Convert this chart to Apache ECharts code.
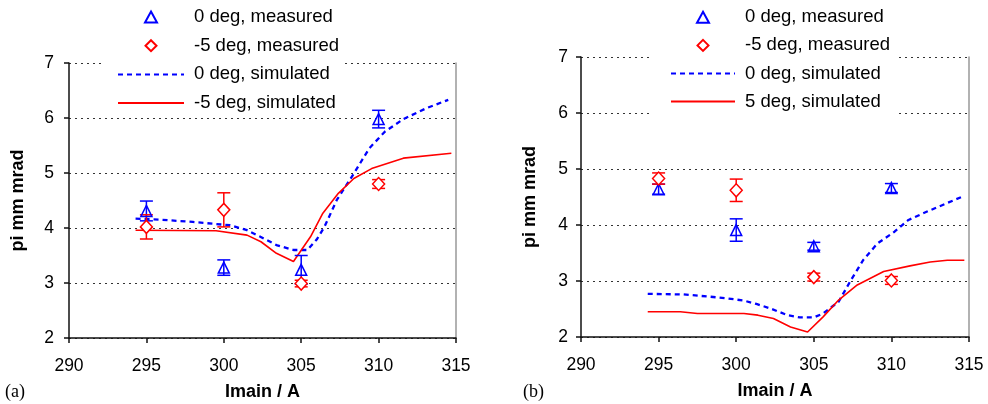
<!DOCTYPE html>
<html><head><meta charset="utf-8">
<script src="https://cdn.jsdelivr.net/npm/echarts@6/dist/echarts.min.js"></script>
<style>html,body{margin:0;padding:0;background:#fff}#c{width:988px;height:404px}</style>
</head><body><div id="c"></div>
<script>
// ---- data ----
const xTicks = [290, 295, 300, 305, 310, 315];
const yTicks = [2, 3, 4, 5, 6, 7];
const xMeas = [295, 300, 305, 310];

// (a)
const a0Meas = [4.31, 3.28, 3.24, 5.98];
const a0Err  = [0.18, 0.14, 0.26, 0.16];
const a5Meas = [4.02, 4.33, 2.99, 4.80];
const a5Err  = [0.22, 0.31, 0.06, 0.08];
const aSim0X = [294.3, 296, 298, 300.4, 301.5, 302.3, 303.4, 304.5, 305.4, 306.0, 306.5, 307.3, 308.4, 309.4, 310.4, 311.6, 313.1, 314.5];
const aSim0Y = [4.17, 4.15, 4.11, 4.05, 3.96, 3.85, 3.69, 3.60, 3.60, 3.79, 4.02, 4.51, 4.99, 5.45, 5.75, 5.98, 6.18, 6.33];
const aSim5X = [294.3, 299.5, 301.5, 302.4, 303.4, 304.5, 305.6, 306.4, 307.4, 308.4, 309.55, 311.6, 314.7];
const aSim5Y = [3.96, 3.95, 3.87, 3.75, 3.54, 3.39, 3.84, 4.27, 4.63, 4.90, 5.08, 5.27, 5.36];

// (b)
const b0Meas = [4.64, 3.91, 3.62, 4.66];
const b0Err  = [0.09, 0.20, 0.07, 0.08];
const b5Meas = [4.83, 4.62, 3.07, 3.01];
const b5Err  = [0.10, 0.20, 0.07, 0.07];
const bSim0X = [294.3, 296.6, 298.3, 299.4, 300.5, 301.3, 302.2, 303.3, 304.1, 305.0, 305.6, 306.6, 307.4, 308.2, 309.1, 310.2, 311.1, 312.3, 314.6];
const bSim0Y = [2.77, 2.76, 2.72, 2.69, 2.65, 2.59, 2.51, 2.39, 2.35, 2.35, 2.42, 2.63, 3.02, 3.38, 3.67, 3.88, 4.09, 4.24, 4.51];
const bSim5X = [294.3, 296.4, 297.5, 300.5, 301.4, 302.4, 303.5, 304.6, 305.6, 306.6, 307.8, 309.5, 311.2, 312.5, 313.6, 314.7];
const bSim5Y = [2.45, 2.45, 2.42, 2.42, 2.39, 2.33, 2.18, 2.09, 2.36, 2.66, 2.93, 3.17, 3.27, 3.34, 3.37, 3.37];

const names = {
  m0: '0 deg, measured', m5: '-5 deg, measured', s0: '0 deg, simulated',
  s5a: '-5 deg, simulated', s5b: '5 deg, simulated'
};

// ---- helpers ----
const FONT = '"Liberation Sans", Arial, sans-serif';
const BLUE = '#0000ff', RED = '#ff0000';
const zip = (xs, ys) => xs.map((x, i) => [x, ys[i]]);
const zip3 = (xs, ys, es) => xs.map((x, i) => [x, ys[i], es[i]]);

function errSeries(idx, data, color) {
  return {
    type: 'custom', xAxisIndex: idx, yAxisIndex: idx * 2, z: 3,
    encode: { x: 0, y: 1 },
    data: data,
    renderItem: function (params, api) {
      const x = api.value(0), y = api.value(1), e = api.value(2);
      const t = api.coord([x, y + e]), b = api.coord([x, y - e]);
      const hw = 6.5, st = { stroke: color, lineWidth: 1.5 };
      return { type: 'group', children: [
        { type: 'line', shape: { x1: t[0], y1: t[1], x2: b[0], y2: b[1] }, style: st },
        { type: 'line', shape: { x1: t[0] - hw, y1: t[1], x2: t[0] + hw, y2: t[1] }, style: st },
        { type: 'line', shape: { x1: b[0] - hw, y1: b[1], x2: b[0] + hw, y2: b[1] }, style: st }
      ]};
    }
  };
}
function measSeries(idx, name, data, sym, color, fill, size) {
  return {
    type: 'scatter', name: name, xAxisIndex: idx, yAxisIndex: idx * 2, z: 4,
    symbol: sym, symbolSize: size, data: data,
    itemStyle: { color: fill, borderColor: color, borderWidth: 1.5, opacity: 1 }
  };
}
function simSeries(idx, name, data, color, dashed) {
  return {
    type: 'line', name: name, xAxisIndex: idx, yAxisIndex: idx * 2, z: 2,
    symbol: 'none', showSymbol: false, smooth: false, data: data,
    lineStyle: dashed ? { color: color, width: 2.3, type: [5, 4] } : { color: color, width: 1.6 },
    itemStyle: { color: color }
  };
}
function xAxisCfg(idx) {
  return {
    type: 'value', gridIndex: idx, min: xTicks[0], max: xTicks[xTicks.length - 1], interval: 5,
    axisLine: { show: true, onZero: false, lineStyle: { color: '#111', width: 1.5 } },
    axisTick: { show: true, inside: false, length: 5, lineStyle: { color: '#111', width: 1.5 } },
    axisLabel: { fontFamily: FONT, fontSize: 17.5, color: '#000', margin: 19 },
    splitLine: { show: false },
    name: 'Imain / A', nameLocation: 'middle', nameGap: 45,
    nameTextStyle: { fontFamily: FONT, fontSize: 18, fontWeight: 'bold', color: '#000' }
  };
}
function yAxisCfg(idx, margin) {
  return {
    type: 'value', gridIndex: idx, min: yTicks[0], max: yTicks[yTicks.length - 1], interval: 1,
    axisLine: { show: true, lineStyle: { color: '#111', width: 1.5 } },
    axisTick: { show: true, inside: false, length: 5, lineStyle: { color: '#111', width: 1.5 } },
    axisLabel: { fontFamily: FONT, fontSize: 17.5, color: '#000', margin: margin },
    splitLine: { show: true, lineStyle: { color: '#333', width: 1, type: [2, 4] } },
    name: 'pi mm mrad', nameLocation: 'middle', nameGap: 42,
    nameTextStyle: { fontFamily: FONT, fontSize: 18, fontWeight: 'bold', color: '#000' }
  };
}
function yRightCfg(idx) {
  return {
    type: 'value', gridIndex: idx, position: 'right', min: yTicks[0], max: yTicks[yTicks.length - 1],
    axisLine: { show: true, lineStyle: { color: '#999', width: 1.5 } },
    axisTick: { show: false }, axisLabel: { show: false }, splitLine: { show: false }
  };
}
const HIDE_SYM = { color: 'rgba(0,0,0,0)', borderColor: 'rgba(0,0,0,0)', borderWidth: 0 };
function legendCfg(left, top, itemWidth, gap, pad, simName) {
  return {
    orient: 'vertical', left: left, top: top, itemWidth: itemWidth, itemHeight: 11, itemGap: gap,
    padding: pad, backgroundColor: '#fff', selectedMode: false, z: 10, symbolKeepAspect: true,
    textStyle: { fontFamily: FONT, fontSize: 18.5, color: '#000', lineHeight: 20, padding: [0, 0, 0, 5] },
    data: [
      { name: names.m0, icon: 'path://M6,0 L12,11 L0,11 Z' },
      { name: names.m5, icon: 'path://M6,0 L12,6 L6,12 L0,6 Z' },
      { name: names.s0, itemStyle: HIDE_SYM },
      { name: simName, itemStyle: HIDE_SYM }
    ]
  };
}

const chart = echarts.init(document.getElementById('c'), null, { renderer: 'canvas' });
chart.setOption({
  backgroundColor: '#fff',
  animation: false,
  grid: [
    { left: 69, top: 63, width: 387, height: 275, outerBoundsMode: 'none', containLabel: false },
    { left: 581, top: 57, width: 388, height: 280, outerBoundsMode: 'none', containLabel: false }
  ],
  xAxis: [xAxisCfg(0), xAxisCfg(1)],
  yAxis: [yAxisCfg(0, 15), yRightCfg(0), yAxisCfg(1, 13), yRightCfg(1)],
  legend: [
    legendCfg(103, 3, 66, 8.7, [4, 6, 2, 14], names.s5a),
    legendCfg(653, 3.3, 64, 8.1, [4, 8, 6, 17], names.s5b)
  ],
  graphic: [
    { type: 'text', left: 5, top: 383, style: { text: '(a)', fontFamily: '"Liberation Serif", "Times New Roman", serif', fontSize: 18, fill: '#000' } },
    { type: 'text', left: 523, top: 383, style: { text: '(b)', fontFamily: '"Liberation Serif", "Times New Roman", serif', fontSize: 18, fill: '#000' } }
  ],
  series: [
    simSeries(0, names.s0, zip(aSim0X, aSim0Y), BLUE, true),
    simSeries(0, names.s5a, zip(aSim5X, aSim5Y), RED, false),
    errSeries(0, zip3(xMeas, a0Meas, a0Err), BLUE),
    errSeries(0, zip3(xMeas, a5Meas, a5Err), RED),
    measSeries(0, names.m0, zip(xMeas, a0Meas), 'triangle', BLUE, 'rgba(255,255,255,0)', [11, 11]),
    measSeries(0, names.m5, zip(xMeas, a5Meas), 'diamond', RED, '#fff', [12, 13]),

    simSeries(1, names.s0, zip(bSim0X, bSim0Y), BLUE, true),
    simSeries(1, names.s5b, zip(bSim5X, bSim5Y), RED, false),
    errSeries(1, zip3(xMeas, b0Meas, b0Err), BLUE),
    errSeries(1, zip3(xMeas, b5Meas, b5Err), RED),
    measSeries(1, names.m0, zip(xMeas, b0Meas), 'triangle', BLUE, 'rgba(255,255,255,0)', [11, 11]),
    measSeries(1, names.m5, zip(xMeas, b5Meas), 'diamond', RED, '#fff', [12, 13])
  ]
});
</script></body></html>
